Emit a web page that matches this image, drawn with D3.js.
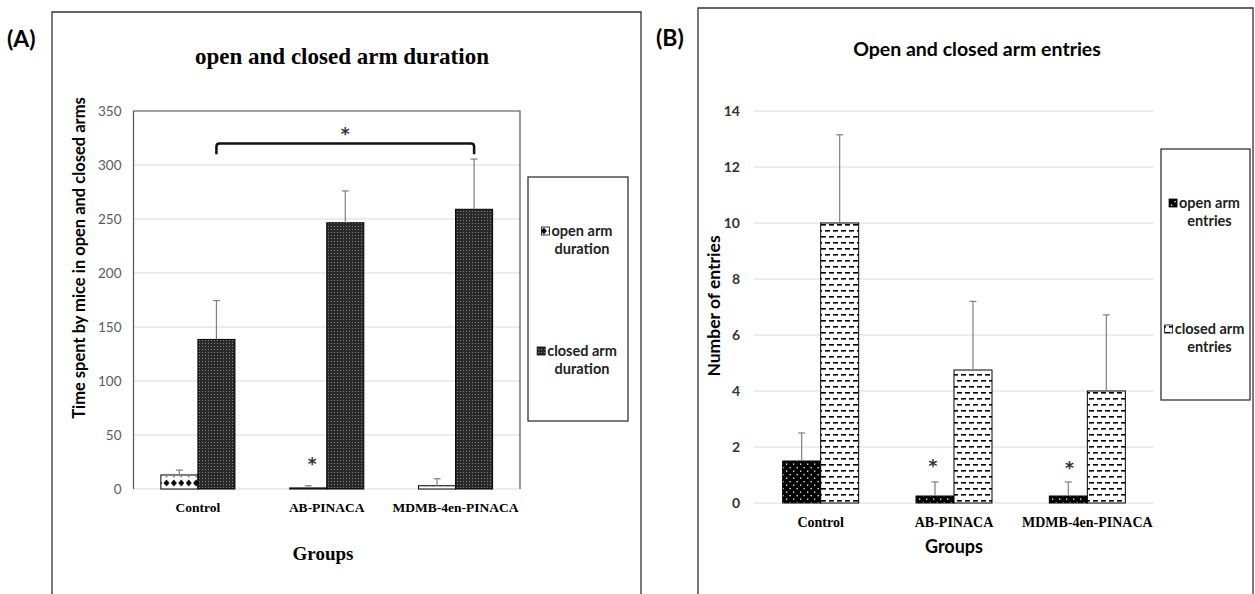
<!DOCTYPE html>
<html>
<head>
<meta charset="utf-8">
<script src="https://cdn.jsdelivr.net/npm/d3@7"></script>
<style>
  body { margin: 0; background: #fff; }
  svg { display: block; }
</style>
</head>
<body>
<svg id="chart" width="1255" height="594"></svg>
<script>
// groups on the x axis (same for both panels)
const groups = ["Control", "AB-PINACA", "MDMB-4en-PINACA"];

// (A) time spent in arms, seconds
const durationSeries = ["open arm duration", "closed arm duration"];
const openDuration = [13, 1, 3];
const openDurationErr = [4.5, 2, 6.5];
const closedDuration = [138.5, 246.5, 259];
const closedDurationErr = [36, 29.5, 46.5];
const durationTicks = [0, 50, 100, 150, 200, 250, 300, 350];

// (B) number of entries
const entriesSeries = ["open arm entries", "closed arm entries"];
const openEntries = [1.5, 0.25, 0.25];
const openEntriesErr = [1.0, 0.5, 0.5];
const closedEntries = [10, 4.75, 4];
const closedEntriesErr = [3.15, 2.45, 2.72];
const entriesTicks = [0, 2, 4, 6, 8, 10, 12, 14];

const svg = d3.select("#chart");
const defs = svg.append("defs");

// fill patterns, roughly like the excel ones
function diamonds(id) {
    const p = defs.append("pattern").attr("id", id).attr("patternUnits", "userSpaceOnUse")
        .attr("width", 7.4).attr("height", 14);
    p.append("rect").attr("width", 7.4).attr("height", 14).attr("fill", "#fff");
    p.append("path").attr("d", "M3.7,3.5 L6.6,7 L3.7,10.5 L0.8,7 Z").attr("fill", "#000");
    p.append("rect").attr("x", 3.2).attr("y", 0).attr("width", 1).attr("height", 1.2).attr("fill", "#000");
}
function darkDots(id) {
    const p = defs.append("pattern").attr("id", id).attr("patternUnits", "userSpaceOnUse")
        .attr("width", 3).attr("height", 3);
    p.append("rect").attr("width", 3).attr("height", 3).attr("fill", "#2a2a2a");
    p.append("rect").attr("x", 1).attr("y", 1).attr("width", 1).attr("height", 1).attr("fill", "#808080");
}
function whiteDots(id) {
    const p = defs.append("pattern").attr("id", id).attr("patternUnits", "userSpaceOnUse")
        .attr("width", 7).attr("height", 7);
    p.append("rect").attr("width", 7).attr("height", 7).attr("fill", "#000");
    p.append("rect").attr("x", 2).attr("y", 1.5).attr("width", 1.3).attr("height", 1.3).attr("fill", "#fff");
    p.append("rect").attr("x", 5.5).attr("y", 5).attr("width", 1.3).attr("height", 1.3).attr("fill", "#fff");
}
function dashes(id) {
    const p = defs.append("pattern").attr("id", id).attr("patternUnits", "userSpaceOnUse")
        .attr("width", 8).attr("height", 12);
    p.append("rect").attr("width", 8).attr("height", 12).attr("fill", "#fff");
    p.append("rect").attr("x", 1).attr("y", 2).attr("width", 5).attr("height", 1.6).attr("fill", "#000");
    p.append("rect").attr("x", 5).attr("y", 8).attr("width", 3).attr("height", 1.6).attr("fill", "#000");
    p.append("rect").attr("x", 0).attr("y", 8).attr("width", 2).attr("height", 1.6).attr("fill", "#000");
}
diamonds("patOpenA");
darkDots("patClosedA");
whiteDots("patOpenB");
dashes("patClosedB");

const sans = "Lato, 'Open Sans', sans-serif";
const serif = "'Liberation Serif', 'DejaVu Serif', serif";

function drawPanel(cfg) {
    const g = svg.append("g");

    // outer frame, runs off the bottom of the picture
    g.append("path")
        .attr("d", `M${cfg.frame[0]},600 V${cfg.frame[1]} H${cfg.frame[2]} V600`)
        .attr("fill", "none").attr("stroke", "#333").attr("stroke-width", 1.3);

    g.append("text").attr("x", cfg.tag[0]).attr("y", cfg.tag[1])
        .style("font-family", sans).style("font-weight", 700).style("font-size", "23px")
        .text(cfg.tagText);

    const x0 = d3.scaleBand().domain(groups).range([cfg.left, cfg.right])
        .paddingInner(cfg.pad).paddingOuter(cfg.pad / 2);
    const x1 = d3.scaleBand().domain(cfg.series).range([0, x0.bandwidth()]);
    const y = d3.scaleLinear().domain([0, d3.max(cfg.ticks)]).range([cfg.bottom, cfg.top]);

    // grid
    g.append("g").selectAll("line").data(cfg.ticks.slice(1)).join("line")
        .attr("x1", cfg.left).attr("x2", cfg.right)
        .attr("y1", d => y(d)).attr("y2", d => y(d))
        .attr("stroke", "#d9d9d9").attr("stroke-width", 1);

    const yAxis = g.append("g").attr("transform", `translate(${cfg.left},0)`)
        .call(d3.axisLeft(y).tickValues(cfg.ticks).tickSize(0).tickPadding(cfg.tickPad));
    yAxis.select(".domain").remove();
    yAxis.selectAll("text")
        .style("font-family", sans).style("font-size", cfg.tickSize)
        .style("font-weight", cfg.tickWeight).attr("fill", cfg.tickColor);

    g.append("line").attr("x1", cfg.left).attr("x2", cfg.right)
        .attr("y1", y(0)).attr("y2", y(0)).attr("stroke", "#d9d9d9");

    if (cfg.box) {
        g.append("path")
            .attr("d", `M${cfg.left},${cfg.bottom} V${cfg.top} H${cfg.right} V${cfg.bottom}`)
            .attr("fill", "none").attr("stroke", "#555").attr("stroke-width", 1.2);
    }

    // bars
    const rows = [];
    groups.forEach((grp, i) => {
        cfg.series.forEach((s, j) => {
            rows.push({ grp: grp, s: s, v: cfg.values[j][i], e: cfg.errors[j][i], fill: cfg.fills[j] });
        });
    });
    const bx = d => x0(d.grp) + x1(d.s);
    g.append("g").selectAll("rect").data(rows).join("rect")
        .attr("x", bx).attr("width", x1.bandwidth())
        .attr("y", d => y(d.v)).attr("height", d => y(0) - y(d.v))
        .attr("fill", d => `url(#${d.fill})`)
        .attr("stroke", "#000").attr("stroke-width", 1);

    // error bars, upper half only
    const eb = g.append("g").attr("stroke", "#808080").attr("stroke-width", 1.2);
    eb.selectAll("line.v").data(rows).join("line").attr("class", "v")
        .attr("x1", d => bx(d) + x1.bandwidth() / 2).attr("x2", d => bx(d) + x1.bandwidth() / 2)
        .attr("y1", d => y(d.v)).attr("y2", d => y(d.v + d.e));
    eb.selectAll("line.c").data(rows).join("line").attr("class", "c")
        .attr("x1", d => bx(d) + x1.bandwidth() / 2 - 3.5).attr("x2", d => bx(d) + x1.bandwidth() / 2 + 3.5)
        .attr("y1", d => y(d.v + d.e)).attr("y2", d => y(d.v + d.e));

    // category labels
    g.append("g").selectAll("text").data(groups).join("text")
        .attr("x", d => x0(d) + x0.bandwidth() / 2).attr("y", cfg.catY)
        .attr("text-anchor", "middle")
        .style("font-family", serif).style("font-weight", 700).style("font-size", cfg.catSize)
        .text(d => d);

    g.append("text").attr("x", cfg.groupsPos[0]).attr("y", cfg.groupsPos[1])
        .attr("text-anchor", "middle")
        .style("font-family", cfg.groupsFont).style("font-weight", 700).style("font-size", cfg.groupsSize)
        .text("Groups");

    g.append("text").attr("x", cfg.titlePos[0]).attr("y", cfg.titlePos[1])
        .attr("text-anchor", "middle")
        .style("font-family", cfg.titleFont).style("font-weight", 700).style("font-size", cfg.titleSize)
        .text(cfg.title);

    g.append("text")
        .attr("transform", `translate(${cfg.yLabelPos[0]},${cfg.yLabelPos[1]}) rotate(-90)`)
        .attr("text-anchor", "middle").attr("dy", "0.35em")
        .style("font-family", sans).style("font-weight", 700).style("font-size", cfg.yLabelSize)
        .text(cfg.yLabel);

    // legend box
    const lg = cfg.legend;
    g.append("rect").attr("x", lg.x).attr("y", lg.y).attr("width", lg.w).attr("height", lg.h)
        .attr("fill", "#fff").attr("stroke", "#333").attr("stroke-width", 1.3);
    cfg.series.forEach((s, j) => {
        const words = s.split(" ");
        const lines = [words.slice(0, 2).join(" "), words.slice(2).join(" ")];
        const cx = lg.x + lg.w / 2 + 4;
        lines.forEach((ln, k) => {
            const t = g.append("text").attr("x", cx).attr("y", lg.rows[j] + k * 17.5)
                .attr("text-anchor", "middle")
                .style("font-family", sans).style("font-weight", 700).style("font-size", "14.5px")
                .attr("fill", "#222").text(ln);
            if (k === 0) {
                const w = t.node().getComputedTextLength();
                g.append("rect").attr("x", cx - w / 2 - 10).attr("y", lg.rows[j] - 9)
                    .attr("width", 8).attr("height", 8)
                    .attr("fill", `url(#${cfg.fills[j]})`).attr("stroke", "#000").attr("stroke-width", 0.8);
            }
        });
    });

    return { g: g, x0: x0, x1: x1, y: y };
}

const A = drawPanel({
    frame: [52, 12, 641], tag: [7, 47], tagText: "(A)",
    left: 133.5, right: 520, top: 111, bottom: 489, pad: 0.425, box: true,
    series: durationSeries, values: [openDuration, closedDuration],
    errors: [openDurationErr, closedDurationErr], fills: ["patOpenA", "patClosedA"],
    ticks: durationTicks, tickPad: 12, tickSize: "13.5px", tickWeight: 400, tickColor: "#595959",
    catY: 512, catSize: "13.5px",
    groupsPos: [323, 560], groupsFont: serif, groupsSize: "19px",
    title: "open and closed arm duration", titlePos: [342, 64], titleFont: serif, titleSize: "23px",
    yLabel: "Time spent by mice in open and closed arms", yLabelPos: [79, 258], yLabelSize: "16.5px",
    legend: { x: 528, y: 177, w: 100, h: 244, rows: [236, 356] }
});

const B = drawPanel({
    frame: [698, 8, 1253], tag: [656, 46], tagText: "(B)",
    left: 754, right: 1154, top: 111, bottom: 503, pad: 0.43, box: false,
    series: entriesSeries, values: [openEntries, closedEntries],
    errors: [openEntriesErr, closedEntriesErr], fills: ["patOpenB", "patClosedB"],
    ticks: entriesTicks, tickPad: 14, tickSize: "14px", tickWeight: 700, tickColor: "#333",
    catY: 527, catSize: "14px",
    groupsPos: [954, 553], groupsFont: sans, groupsSize: "18px",
    title: "Open and closed arm entries", titlePos: [977, 56], titleFont: sans, titleSize: "19.5px",
    yLabel: "Number of entries", yLabelPos: [714, 306], yLabelSize: "17.5px",
    legend: { x: 1161, y: 149, w: 89, h: 251, rows: [208, 334] }
});

// significance marks
function star(p, x, yv, size) {
    p.g.append("text").attr("x", x).attr("y", p.y(yv)).attr("dy", "0.7em")
        .attr("text-anchor", "middle")
        .style("font-family", "'DejaVu Sans', sans-serif").style("font-weight", 700)
        .style("font-size", size).attr("fill", "#333").text("*");
}
const ctr = (p, grp, s) => p.x0(grp) + p.x1(s) + p.x1.bandwidth() / 2;

// bracket Control vs MDMB-4en-PINACA closed arm
const bx1 = ctr(A, groups[0], durationSeries[1]);
const bx2 = ctr(A, groups[2], durationSeries[1]);
const by = A.y(320), byEnd = A.y(310);
A.g.append("path")
    .attr("d", `M${bx1},${byEnd} V${by + 3} Q${bx1},${by} ${bx1 + 3},${by} H${bx2 - 3} Q${bx2},${by} ${bx2},${by + 3} V${byEnd}`)
    .attr("fill", "none").attr("stroke", "#111").attr("stroke-width", 2.5);
star(A, (bx1 + bx2) / 2, 334, "17px");
star(A, ctr(A, groups[1], durationSeries[0]) + 4, 29, "17px");
star(B, ctr(B, groups[1], entriesSeries[0]) - 2, 1.55, "17px");
star(B, ctr(B, groups[2], entriesSeries[0]) + 1, 1.45, "17px");
</script>
</body>
</html>
